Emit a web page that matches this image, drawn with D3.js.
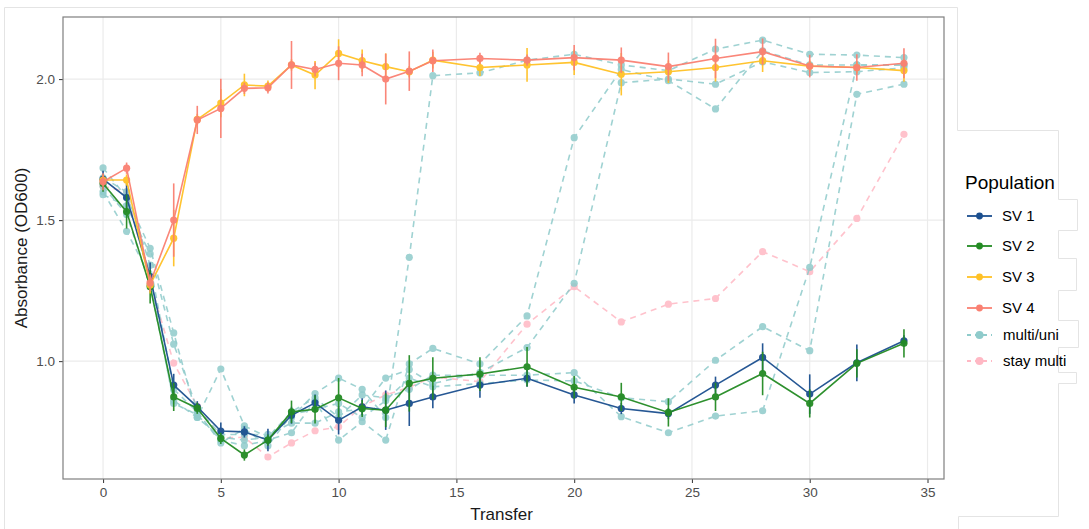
<!DOCTYPE html>
<html>
<head>
<meta charset="utf-8">
<script src="https://cdn.jsdelivr.net/npm/d3@7"></script>
<style>
  html, body { margin: 0; padding: 0; background: #fff; }
  svg { display: block; font-family: "Liberation Sans", Arial, sans-serif; }
</style>
</head>
<body>
<svg id="chart" width="1089" height="529"></svg>
<script>
// Transfer numbers at which absorbance was measured
const transfers = [0,1,2,3,4,5,6,7,8,9,10,11,12,13,14,16,18,20,22,24,26,28,30,32,34];

// Mean absorbance (OD600) per selection line, with error half-widths
const sv1 = [1.645,1.58,1.30,0.915,0.838,0.752,0.749,0.72,0.808,0.852,0.79,0.838,0.826,0.85,0.873,0.915,0.939,0.88,0.832,0.814,0.915,1.013,0.883,0.994,1.072];
const sv1Err = [0.03,0.05,0.05,0.04,0.02,0.03,0.02,0.04,0.03,0.03,0.05,0.03,0.07,0.08,0.04,0.045,0.03,0.03,0.02,0.02,0.03,0.05,0.07,0.065,0.02];
const sv2 = [1.63,1.53,1.264,0.873,0.833,0.726,0.667,0.72,0.82,0.829,0.87,0.832,0.826,0.921,0.939,0.954,0.98,0.907,0.873,0.818,0.873,0.956,0.85,0.992,1.063];
const sv2Err = [0.03,0.06,0.06,0.05,0.02,0.02,0.02,0.02,0.04,0.05,0.07,0.03,0.06,0.1,0.075,0.06,0.07,0.04,0.05,0.05,0.05,0.077,0.05,0.05,0.05];
const sv3 = [1.642,1.642,1.27,1.436,1.857,1.915,1.979,1.975,2.05,2.014,2.091,2.065,2.044,2.026,2.067,2.041,2.05,2.059,2.017,2.026,2.041,2.065,2.046,2.041,2.03];
const sv3Err = [0.02,0.02,0.03,0.1,0.02,0.05,0.04,0.02,0.02,0.05,0.05,0.04,0.047,0.02,0.03,0.03,0.06,0.045,0.075,0.04,0.05,0.04,0.02,0.02,0.04];
const sv4 = [1.636,1.684,1.277,1.50,1.855,1.896,1.967,1.969,2.05,2.034,2.056,2.05,2.0,2.028,2.065,2.073,2.067,2.076,2.067,2.044,2.073,2.097,2.046,2.041,2.056];
const sv4Err = [0.03,0.02,0.03,0.13,0.05,0.105,0.02,0.02,0.085,0.025,0.06,0.04,0.09,0.07,0.04,0.02,0.02,0.045,0.045,0.05,0.07,0.047,0.04,0.047,0.053];

// Individual replicate populations: multi/uni switchers and those staying multi
const multiUniA = [1.685,1.58,1.40,1.10,0.80,0.972,0.77,0.73,0.80,0.885,0.94,0.90,0.80,1.368,2.012,2.022,2.067,2.088,2.05,2.03,2.106,2.138,2.088,2.085,2.076];
const multiUniB = [1.60,1.46,1.30,0.85,0.81,0.72,0.70,0.72,0.746,0.86,0.72,0.785,0.72,0.99,1.045,0.99,1.16,1.792,2.034,1.994,1.894,2.10,2.05,2.05,2.05];
const multiUniC = [1.59,1.55,1.38,1.06,0.83,0.74,0.74,0.74,0.78,0.78,0.82,0.83,0.94,0.97,0.92,0.96,1.048,1.276,1.987,2.0,1.982,2.061,2.023,2.026,2.04];
const multiUniD = [1.65,1.60,1.34,0.90,0.82,0.71,0.76,0.70,0.81,0.83,0.85,0.80,0.86,0.94,0.909,0.92,0.933,0.93,0.87,0.856,1.003,1.122,1.037,1.946,1.982];
const multiUniE = [1.62,1.52,1.27,0.86,0.80,0.73,0.72,0.73,0.82,0.87,0.80,0.88,0.87,0.90,0.95,0.95,0.95,0.959,0.803,0.746,0.805,0.824,1.332,2.05,2.05];
const stayMulti = [1.62,1.60,1.28,0.993,0.84,0.727,0.73,0.66,0.71,0.753,0.767,0.84,0.88,0.907,0.944,0.927,1.131,1.264,1.139,1.202,1.222,1.388,1.317,1.506,1.804];

// Axis ticks and legend entries
const xTicks = [0,5,10,15,20,25,30,35];
const yTicks = [1.0,1.5,2.0];
const legendLabels = ["SV 1","SV 2","SV 3","SV 4","multi/uni","stay multi"];

const col = {
  sv1: "#1B4F8F", sv2: "#238B23", sv3: "#FFC125", sv4: "#FA8072",
  multi: "#8FCBCB", stay: "#FFB8C4"
};

const svg = d3.select("#chart");
const panel = {left: 63, top: 17, right: 944, bottom: 479};

const x = d3.scaleLinear().domain([-1.7, 35.7]).range([panel.left, panel.right]);
const y = d3.scaleLinear().domain([0.582, 2.22]).range([panel.bottom, panel.top]);

// Outline of the composed figure and the legend patch
const frame = svg.append("g").attr("fill", "none").attr("stroke", "#e4e4e4").attr("stroke-width", 1);
frame.append("path").attr("d", "M4.5,529 L4.5,7.5 L957.5,7.5 L957.5,130.5 L1058.5,130.5 L1058.5,199.5 L1077.5,199.5 L1077.5,230.5 L1058.5,230.5 L1058.5,258.5 L1076.5,258.5 L1076.5,290.5 L1058.5,290.5 L1058.5,320.5 L1078.5,320.5 L1078.5,347.5 L1058.5,347.5 L1058.5,372.5 L1076.5,372.5 L1076.5,383.5 L1058.5,383.5 L1058.5,516.5 L958.5,516.5 L958.5,529");

// Grid lines
const grid = svg.append("g").attr("stroke", "#ebebeb").attr("stroke-width", 1.2);
grid.selectAll("line.gx").data(xTicks).join("line")
  .attr("x1", d => x(d)).attr("x2", d => x(d)).attr("y1", panel.top).attr("y2", panel.bottom);
grid.selectAll("line.gy").data(yTicks).join("line")
  .attr("x1", panel.left).attr("x2", panel.right).attr("y1", d => y(d)).attr("y2", d => y(d));

// Axes
const xAxis = svg.append("g").attr("transform", `translate(0,${panel.bottom})`)
  .call(d3.axisBottom(x).tickValues(xTicks).tickFormat(d3.format("d")).tickSize(4).tickPadding(4));
const yAxis = svg.append("g").attr("transform", `translate(${panel.left},0)`)
  .call(d3.axisLeft(y).tickValues(yTicks).tickFormat(d3.format(".1f")).tickSize(4).tickPadding(4));
[xAxis, yAxis].forEach(a => {
  a.select(".domain").remove();
  a.selectAll(".tick line").attr("stroke", "#444").attr("stroke-width", 1.1);
  a.selectAll(".tick text").attr("fill", "#4d4d4d").style("font-size", "13.5px")
    .style("font-family", "'Liberation Sans', Arial, sans-serif");
});

const line = d3.line().x((d, i) => x(transfers[i])).y(d => y(d));

// Replicate populations (dashed)
const reps = [
  {v: stayMulti, c: col.stay},
  {v: multiUniA, c: col.multi}, {v: multiUniB, c: col.multi}, {v: multiUniC, c: col.multi},
  {v: multiUniD, c: col.multi}, {v: multiUniE, c: col.multi}
];
const repG = svg.append("g");
reps.forEach(r => {
  const g = repG.append("g").attr("opacity", 0.85);
  g.append("path").datum(r.v).attr("d", line).attr("fill", "none")
    .attr("stroke", r.c).attr("stroke-width", 1.6).attr("stroke-dasharray", "6,5");
  g.selectAll("circle").data(r.v).join("circle")
    .attr("cx", (d, i) => x(transfers[i])).attr("cy", d => y(d)).attr("r", 3.6).attr("fill", r.c);
});

// Selection-line means with error bars
const means = [
  {v: sv1, e: sv1Err, c: col.sv1},
  {v: sv2, e: sv2Err, c: col.sv2},
  {v: sv3, e: sv3Err, c: col.sv3},
  {v: sv4, e: sv4Err, c: col.sv4}
];
const meanG = svg.append("g");
means.forEach(m => {
  const g = meanG.append("g").attr("opacity", 0.95);
  g.selectAll("line").data(m.v).join("line")
    .attr("x1", (d, i) => x(transfers[i])).attr("x2", (d, i) => x(transfers[i]))
    .attr("y1", (d, i) => y(d - m.e[i])).attr("y2", (d, i) => y(d + m.e[i]))
    .attr("stroke", m.c).attr("stroke-width", 1.6);
  g.append("path").datum(m.v).attr("d", line).attr("fill", "none")
    .attr("stroke", m.c).attr("stroke-width", 1.6);
  g.selectAll("circle").data(m.v).join("circle")
    .attr("cx", (d, i) => x(transfers[i])).attr("cy", d => y(d)).attr("r", 3.6).attr("fill", m.c);
});

// Panel border
svg.append("rect").attr("x", panel.left).attr("y", panel.top)
  .attr("width", panel.right - panel.left).attr("height", panel.bottom - panel.top)
  .attr("fill", "none").attr("stroke", "#7f7f7f").attr("stroke-width", 1.2);

// Axis titles
svg.append("text").attr("x", (panel.left + panel.right) / 2 - 2).attr("y", 520)
  .attr("text-anchor", "middle").attr("fill", "#1a1a1a").style("font-size", "17px").text("Transfer");
svg.append("text").attr("transform", `translate(27,${(panel.top + panel.bottom) / 2}) rotate(-90)`)
  .attr("text-anchor", "middle").attr("fill", "#1a1a1a").style("font-size", "17px").text("Absorbance (OD600)");

// Legend
const legend = svg.append("g");
legend.append("text").attr("x", 965).attr("y", 189).attr("fill", "#000")
  .style("font-size", "19px").text("Population");
const legendY = [216, 246, 277, 308, 335, 361];
const legendCol = [col.sv1, col.sv2, col.sv3, col.sv4, col.multi, col.stay];
legendLabels.forEach((lab, i) => {
  const dashed = i >= 4;
  const g = legend.append("g").attr("transform", `translate(0,${legendY[i]})`);
  g.append("line").attr("x1", 967).attr("x2", 992).attr("y1", 0).attr("y2", 0)
    .attr("stroke", legendCol[i]).attr("stroke-width", 1.8)
    .attr("stroke-dasharray", dashed ? "4,4" : null);
  g.append("circle").attr("cx", 979.5).attr("cy", 0).attr("r", dashed ? 4 : 3.4).attr("fill", legendCol[i]);
  g.append("text").attr("x", dashed ? 1003 : 1002).attr("y", 5.3).attr("fill", "#000")
    .style("font-size", "15px").text(lab);
});
</script>
</body>
</html>
